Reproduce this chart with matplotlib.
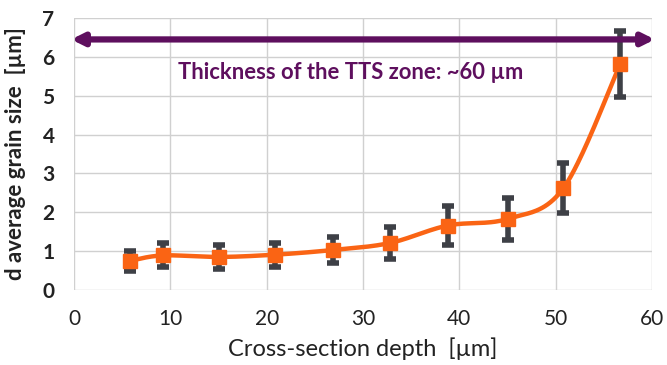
import numpy as np
import matplotlib
matplotlib.use("Agg")
import matplotlib.pyplot as plt

plt.rcParams['font.family'] = ['Lato', 'DejaVu Sans']

# Measured grain size vs. depth below the surface
depth = [5.8, 9.2, 15.0, 20.9, 26.9, 32.8, 38.8, 45.0, 50.8, 56.7]
grain = [0.75, 0.89, 0.85, 0.91, 1.03, 1.21, 1.66, 1.83, 2.62, 5.82]
grain_err = [0.25, 0.31, 0.30, 0.31, 0.34, 0.41, 0.49, 0.54, 0.65, 0.85]

x_ticks = [0, 10, 20, 30, 40, 50, 60]
y_ticks = [0, 1, 2, 3, 4, 5, 6, 7]
zone_level = 6.45
zone_label = "Thickness of the TTS zone: ~60 µm"

ORANGE = "#FA6414"
PURPLE = "#5E0F5E"
GRAY = "#3E4046"


def smooth_curve(x, y, sx, sy, n=40):
    """Catmull-Rom style smoothing done in screen-proportional units."""
    p = np.column_stack([np.asarray(x) * sx, np.asarray(y) * sy])
    pts = []
    for i in range(len(p) - 1):
        p0 = p[i - 1] if i > 0 else p[i]
        p1, p2 = p[i], p[i + 1]
        p3 = p[i + 2] if i + 2 < len(p) else p[i + 1]
        c1 = p1 + (p2 - p0) / 6.0
        c2 = p2 - (p3 - p1) / 6.0
        t = np.linspace(0, 1, n)[:, None]
        seg = ((1 - t) ** 3) * p1 + 3 * ((1 - t) ** 2) * t * c1 + 3 * (1 - t) * t ** 2 * c2 + t ** 3 * p2
        pts.append(seg if i == 0 else seg[1:])
    pts = np.vstack(pts)
    return pts[:, 0] / sx, pts[:, 1] / sy


fig = plt.figure(figsize=(6.67, 3.65), dpi=100)
ax = fig.add_axes([0.111, 0.2055, 0.8665, 0.745])

ax.set_xlim(0, 60)
ax.set_ylim(0, 7)
ax.set_xticks(x_ticks)
ax.set_yticks(y_ticks)
ax.grid(True, color="#D0D0D0", linewidth=1.0)
ax.set_axisbelow(True)
for s in ax.spines.values():
    s.set_visible(False)
ax.tick_params(axis="x", length=0, pad=14, labelsize=15, colors="#222222")
ax.tick_params(axis="y", length=0, pad=14, labelsize=15, colors="#222222")
for lab in ax.get_yticklabels():
    lab.set_fontweight("bold")

# smoothed connecting line
sx, sy = 9.63, 38.9
cx, cy = smooth_curve(depth, grain, sx, sy)
ax.plot(cx, cy, color=ORANGE, linewidth=3.2, zorder=3, solid_capstyle="round")

# error bars and markers
ax.errorbar(depth, grain, yerr=grain_err, fmt="none", ecolor=GRAY,
            elinewidth=4, capsize=4.5, capthick=4, zorder=4)
ax.plot(depth, grain, linestyle="none", marker="s", markersize=10,
        color=ORANGE, zorder=5)

# zone thickness arrow
ax.annotate("", xy=(60.3, zone_level), xytext=(-0.3, zone_level),
            arrowprops=dict(arrowstyle="<|-|>,head_length=0.7,head_width=0.35",
                            color=PURPLE, lw=4.5, shrinkA=0, shrinkB=0),
            annotation_clip=False, zorder=6)
ax.text(28.7, 5.6, zone_label, color=PURPLE, fontsize=15.8, fontweight="bold",
        ha="center", va="center", zorder=6)

ax.set_xlabel("Cross-section depth  [µm]", fontsize=17, color="#222222", labelpad=6)
ax.set_ylabel("d average grain size  [µm]", fontsize=16, fontweight="bold",
              color="#222222", labelpad=12)

fig.savefig("out.png", dpi=100)
